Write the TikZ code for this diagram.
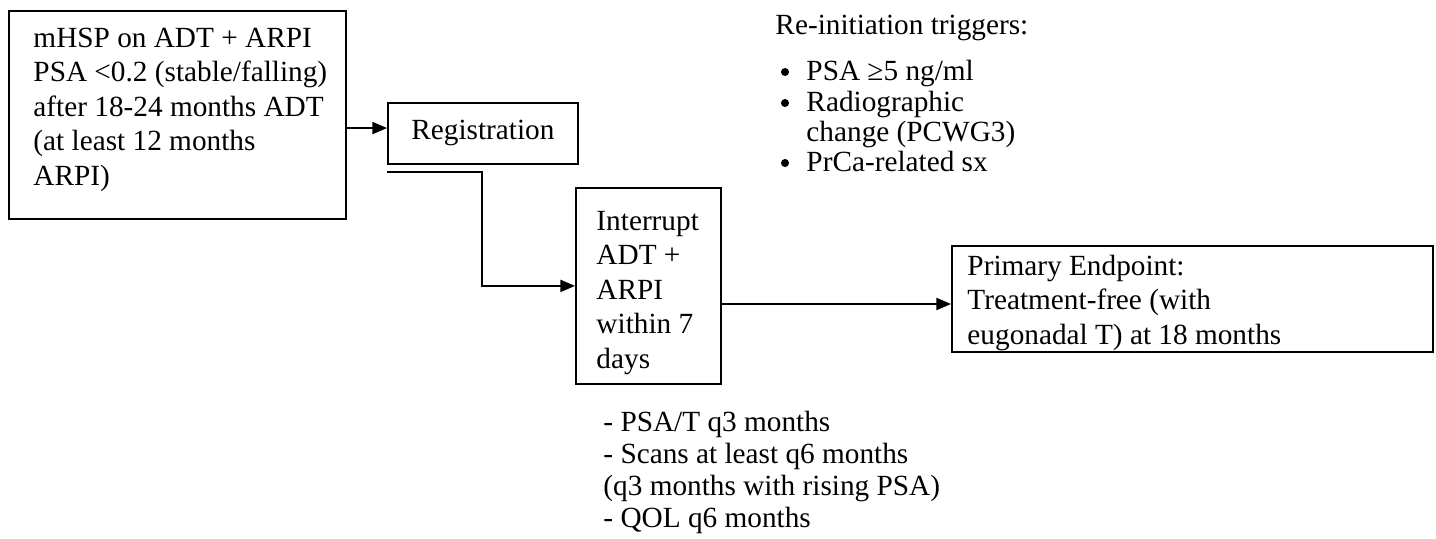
\documentclass[tikz,border=0pt]{standalone}
\usepackage{fontspec}
\setmainfont{Liberation Serif}
\usetikzlibrary{arrows.meta}
\begin{document}
\begin{tikzpicture}[x=0.41pt,y=-0.41pt,
  boxed/.style={draw, line width=0.75pt, inner sep=0pt, anchor=north west},
  % multi-line texts are placed by the baseline of their last line
  txt/.style={font=\fontsize{12}{14.1}\selectfont, align=left, inner sep=0pt, anchor=base west},
  bul/.style={circle, fill, inner sep=0pt, minimum size=3.3pt},
  conn/.style={line width=0.6pt, -{Triangle[length=6pt,width=5pt]}}]
\useasboundingbox (0,0) rectangle (1436,538);

% boxes
\node[boxed, minimum width={337*0.41pt}, minimum height={208*0.41pt}] (elig) at (8,10) {};
\node[boxed, minimum width={190*0.41pt}, minimum height={61*0.41pt},
      font=\fontsize{12}{14.1}\selectfont] (reg) at (387,102) {Registration};
\node[boxed, minimum width={145*0.41pt}, minimum height={196*0.41pt}] (intr) at (575,187) {};
\node[boxed, minimum width={481*0.41pt}, minimum height={106*0.41pt}] (pe) at (951,245) {};

% box texts
\node[txt] (eligtxt) at (33,185) {mHSP on ADT + ARPI\\PSA <0.2 (stable/falling)\\after 18-24 months ADT\\(at least 12 months\\ARPI)};
\node[txt] (intrtxt) at (596,368) {Interrupt\\ADT +\\ARPI\\within 7\\days};
\node[txt] (petxt) at (967,344) {Primary Endpoint:\\Treatment-free (with\\eugonadal T) at 18 months};

% re-initiation triggers
\node[txt] (trig) at (775,34) {Re-initiation triggers:};
\node[bul] (b1) at (785,72) {};
\node[txt] (t1) at (806,80) {PSA ≥5 ng/ml};
\node[bul] (b2) at (785,103) {};
\node[txt, font=\fontsize{12}{12.3}\selectfont] (t2) at (806,141) {Radiographic\\change (PCWG3)};
\node[bul] (b3) at (785,163) {};
\node[txt] (t3) at (806,171) {PrCa-related sx};

% follow-up schedule
\node[txt, font=\fontsize{12}{13}\selectfont] (follow) at (603,527) {- PSA/T q3 months\\- Scans at least q6 months\\(q3 months with rising PSA)\\- QOL q6 months};

% connectors
\draw[conn] ([yshift=2.2pt]reg.west -| elig.east) -- ([yshift=2.2pt]reg.west);
\coordinate (tap) at (387,172);
\draw[conn] (tap) -- ++(95,0) |- (intr.west);
\coordinate (lvl) at (0,304);
\draw[conn] (intr.east |- lvl) -- (pe.west |- lvl);
\end{tikzpicture}
\end{document}
